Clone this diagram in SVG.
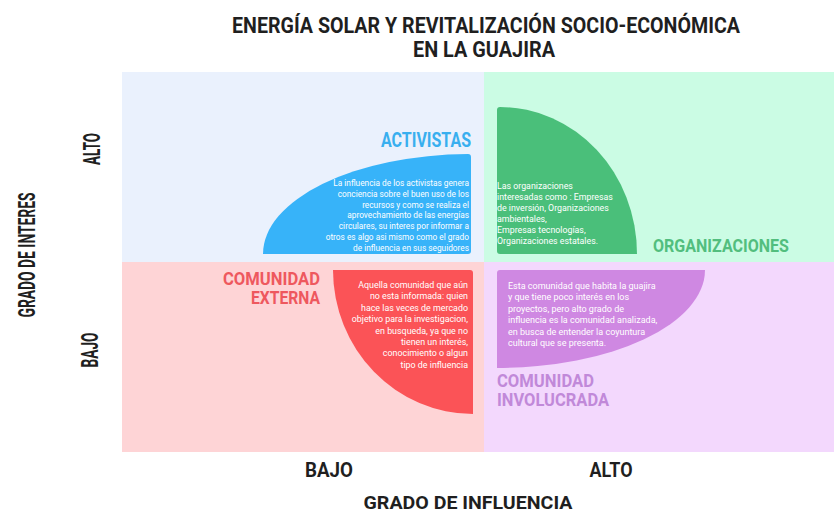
<svg xmlns="http://www.w3.org/2000/svg" width="834" height="514" viewBox="0 0 834 514">
<style>
.h{font-family:Roboto,"Liberation Sans",sans-serif;font-weight:700}
.ax{fill:#1f1f1f}
.p{font-family:Roboto,"Liberation Sans",sans-serif;fill:#ffffff}
.pb{font-size:8.3px}
.pr{font-size:8.9px}
.pg{font-size:8.8px}
.pp{font-size:9px}
</style>
<rect width="834" height="514" fill="#ffffff"/>
<g id="title" class="h ax" text-anchor="middle">
<text x="486" y="33" font-size="22" textLength="508" lengthAdjust="spacingAndGlyphs">ENERGÍA SOLAR Y REVITALIZACIÓN SOCIO-ECONÓMICA</text>
<text x="484" y="57" font-size="22" textLength="142" lengthAdjust="spacingAndGlyphs">EN LA GUAJIRA</text>
</g>
<g id="quadrants">
<rect x="122" y="72" width="362" height="190" fill="#EAF1FD"/>
<rect x="484" y="72" width="350" height="190" fill="#CBFCE4"/>
<rect x="122" y="262" width="362" height="190" fill="#FED4D6"/>
<rect x="484" y="262" width="350" height="190" fill="#F3D8FD"/>
</g>
<g id="activistas">
<path d="M263,254 A208,100 0 0 1 468,154 Q471,154 471,157 L471,251 Q471,254 468,254 Z" fill="#37B3F9"/>
<text class="h" x="471" y="147" font-size="19.5" fill="#39AFEF" text-anchor="end" textLength="90" lengthAdjust="spacingAndGlyphs">ACTIVISTAS</text>
<g class="p pb" text-anchor="end">
<text x="469" y="186">La influencia de los activistas genera</text>
<text x="469" y="196.8">conciencia sobre  el buen uso de los</text>
<text x="469" y="207.6">recursos y como se  realiza el</text>
<text x="469" y="218.4">aprovechamiento de las energías</text>
<text x="469" y="229.2">circulares, su  interes por informar a</text>
<text x="469" y="240">otros es algo asi mismo como el grado</text>
<text x="469" y="250.8">de influencia en sus seguidores</text>
</g>
</g>
<g id="organizaciones">
<path d="M497,110 Q497,107 500,107 A137,147 0 0 1 637,254 L500,254 Q497,254 497,251 Z" fill="#4ABF7A"/>
<text class="h" x="653" y="252" font-size="18.5" fill="#52BE7E" textLength="136" lengthAdjust="spacingAndGlyphs">ORGANIZACIONES</text>
<g class="p pg">
<text x="497" y="189">Las organizaciones</text>
<text x="497" y="200">interesadas como : Empresas</text>
<text x="497" y="211">de inversión, Organizaciones</text>
<text x="497" y="222">ambientales,</text>
<text x="497" y="233">Empresas tecnologías,</text>
<text x="497" y="244">Organizaciones estatales.</text>
</g>
</g>
<g id="comunidad-externa">
<path d="M333,270 L470,270 Q473,270 473,273 L473,414 A140,144 0 0 1 333,270 Z" fill="#FB5357"/>
<g class="h" font-size="18" fill="#EE585E" text-anchor="end">
<text x="320" y="285" textLength="97" lengthAdjust="spacingAndGlyphs">COMUNIDAD</text>
<text x="320" y="304" textLength="69" lengthAdjust="spacingAndGlyphs">EXTERNA</text>
</g>
<g class="p pr" text-anchor="end">
<text x="468" y="288">Aquella comunidad que aún</text>
<text x="468" y="299.4">no esta  informada: quien</text>
<text x="468" y="310.8">hace las veces de  mercado</text>
<text x="468" y="322.2">objetivo para la investigacion,</text>
<text x="468" y="333.6">en busqueda, ya que no</text>
<text x="468" y="345">tienen un interés,</text>
<text x="468" y="356.4">conocimiento o algun</text>
<text x="468" y="367.8">tipo de influencia</text>
</g>
</g>
<g id="comunidad-involucrada">
<path d="M497,273 Q497,270 500,270 L705,270 A208,98 0 0 1 497,368 Z" fill="#CF88E2"/>
<g class="h" font-size="17.5" fill="#C189D9">
<text x="497" y="387" textLength="97" lengthAdjust="spacingAndGlyphs">COMUNIDAD</text>
<text x="497" y="406" textLength="112" lengthAdjust="spacingAndGlyphs">INVOLUCRADA</text>
</g>
<g class="p pp">
<text x="508" y="289">Esta comunidad que habita la guajira</text>
<text x="508" y="300.4">y que tiene poco interés en los</text>
<text x="508" y="311.8">proyectos, pero alto grado de</text>
<text x="508" y="323.2">influencia es la comunidad analizada,</text>
<text x="508" y="334.6">en busca de entender la coyuntura</text>
<text x="508" y="346">cultural que se presenta.</text>
</g>
</g>
<g id="axes" class="h ax" text-anchor="middle">
<text transform="translate(100,149) rotate(-90)" font-size="24" textLength="32" lengthAdjust="spacingAndGlyphs">ALTO</text>
<text transform="translate(98,350) rotate(-90)" font-size="24" textLength="35" lengthAdjust="spacingAndGlyphs">BAJO</text>
<text transform="translate(35,255) rotate(-90)" font-size="24" textLength="125" lengthAdjust="spacingAndGlyphs">GRADO DE INTERES</text>
<text x="329" y="477" font-size="19.5" textLength="48" lengthAdjust="spacingAndGlyphs">BAJO</text>
<text x="611" y="477" font-size="19.5" textLength="43" lengthAdjust="spacingAndGlyphs">ALTO</text>
<text x="468" y="509" font-size="19" textLength="209" lengthAdjust="spacingAndGlyphs">GRADO DE INFLUENCIA</text>
</g>
<g id="connectors"/>
</svg>
